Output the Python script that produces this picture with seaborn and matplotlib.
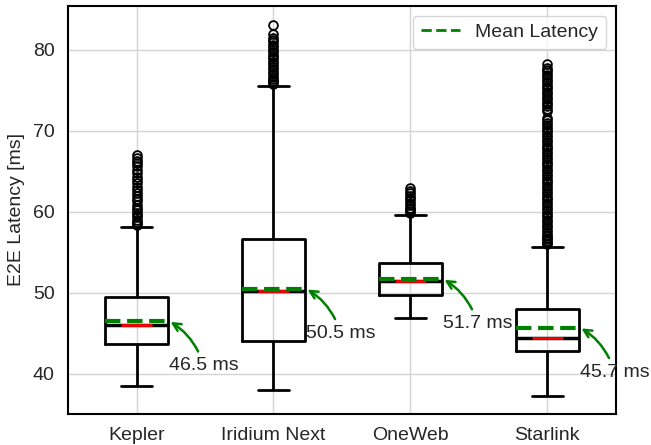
import matplotlib
matplotlib.use("Agg")
import matplotlib.pyplot as plt
from matplotlib.lines import Line2D
import seaborn as sns
import pandas as pd

# ---- data ----
categories = ["Kepler", "Iridium Next", "OneWeb", "Starlink"]
whisker_low = [38.5, 38.0, 46.9, 37.3]
q1_vals = [43.7, 44.1, 49.7, 42.8]
median_vals = [46.0, 50.2, 51.5, 44.4]
q3_vals = [49.5, 56.7, 53.7, 48.0]
whisker_high = [58.1, 75.5, 59.6, 55.7]
mean_vals = [46.5, 50.5, 51.7, 45.7]

outliers_kepler = [58.4, 58.6, 58.8, 59.0, 59.3, 59.6, 59.9, 60.2, 60.5, 60.9,
                   61.3, 61.6, 62.0, 62.3, 62.7, 63.1, 63.5, 63.9, 64.3, 64.8,
                   65.2, 65.6, 66.0, 66.3, 66.6, 67.0]
outliers_iridium = [75.8, 76.0, 76.2, 76.4, 76.7, 77.0, 77.3, 77.6, 77.9, 78.2,
                    78.5, 78.8, 79.1, 79.4, 79.7, 80.0, 80.3, 80.6, 80.9, 81.2,
                    81.5, 81.9, 83.1]
outliers_oneweb = [59.9, 60.1, 60.3, 60.5, 60.8, 61.1, 61.4, 61.7, 62.0, 62.3,
                   62.6, 62.9]
outliers_starlink = [56.0, 56.2, 56.4, 56.6, 56.8, 57.0, 57.2, 57.5, 57.8, 58.1,
                     58.4, 58.7, 59.0, 59.3, 59.6, 59.9, 60.2, 60.5, 60.8, 61.1,
                     61.4, 61.7, 62.0, 62.3, 62.6, 62.9, 63.2, 63.5, 63.8, 64.1,
                     64.4, 64.7, 65.0, 65.3, 65.6, 65.9, 66.2, 66.5, 66.8, 67.1,
                     67.4, 67.7, 68.0, 68.3, 68.6, 68.9, 69.2, 69.5, 69.8, 70.1,
                     70.4, 70.7, 71.0, 71.3, 71.6, 72.4, 72.7, 73.0, 73.3, 73.6,
                     73.9, 74.2, 74.5, 74.8, 75.1, 75.4, 75.7, 76.0, 76.3, 76.6,
                     76.9, 77.2, 77.5, 77.8, 78.3]
outliers = [outliers_kepler, outliers_iridium, outliers_oneweb, outliers_starlink]

# ---- build a sample whose box statistics equal the values above ----
rows = []
for i, cat in enumerate(categories):
    n = len(outliers[i]) + 5
    vals = ([whisker_low[i]] + [q1_vals[i]] * n + [median_vals[i]] * n +
            [q3_vals[i]] * n + [whisker_high[i]] + list(outliers[i]))
    rows += [(cat, v) for v in vals]
df = pd.DataFrame(rows, columns=["Satellite", "Latency"])

sns.set_theme(style="whitegrid")
plt.rcParams["font.family"] = ["Liberation Sans", "DejaVu Sans"]

fig, ax = plt.subplots(figsize=(6.51, 4.45), dpi=100)
fig.subplots_adjust(left=0.1045, right=0.946, top=0.9865, bottom=0.0697)

box_w = 0.46
sns.boxplot(data=df, x="Satellite", y="Latency", order=categories, ax=ax,
            width=box_w, fill=False, color="black", linecolor="black",
            linewidth=2.0, whis=1.5,
            boxprops=dict(color="black", linewidth=2.0),
            whiskerprops=dict(color="black", linewidth=2.0),
            capprops=dict(color="black", linewidth=2.0),
            medianprops=dict(color="black", linewidth=2.5),
            flierprops=dict(marker="o", markerfacecolor="none",
                            markeredgecolor="black", markersize=6.3,
                            markeredgewidth=1.3))

for i, m in enumerate(mean_vals):
    ax.hlines(median_vals[i], i - box_w / 4, i + box_w / 4, color="red",
              linewidth=2.0, zorder=5)
    ax.hlines(m, i - box_w / 2, i + box_w / 2, color="green",
              linewidth=3.0, linestyles="--", zorder=6)
    ax.annotate(f"{m} ms", xy=(i + box_w / 2 + 0.01, m),
                xytext=(i + box_w / 2 + 0.26, m - 5.5),
                ha="center", va="center", fontsize=14, color="#262626",
                arrowprops=dict(arrowstyle="->", color="green", lw=1.8,
                                connectionstyle="arc3,rad=0.2",
                                shrinkA=2, shrinkB=1),
                annotation_clip=False, zorder=7)

ax.set_xlim(-0.5, 3.5)
ax.set_ylim(35.05, 85.4)
ax.set_yticks([40, 50, 60, 70, 80])
ax.set_xlabel("")
ax.set_ylabel("E2E Latency [ms]", fontsize=14, labelpad=6)
ax.tick_params(axis="both", labelsize=14)
for s in ax.spines.values():
    s.set_color("black")
    s.set_linewidth(1.5)
ax.grid(True, color="#d4d4d4", linewidth=1.0)

handle = Line2D([0], [0], color="green", linestyle="--", linewidth=2.0)
ax.legend([handle], ["Mean Latency"], loc="upper right", fontsize=14,
          frameon=True)

fig.savefig("out.png", dpi=100)
